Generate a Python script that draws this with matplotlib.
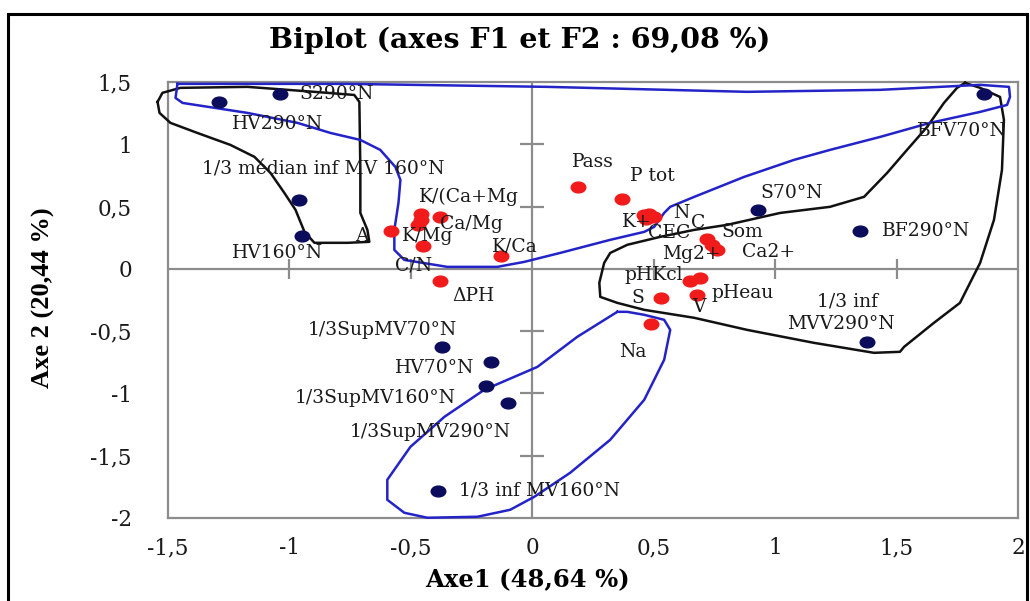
import matplotlib
matplotlib.use("Agg")
import matplotlib.pyplot as plt
from matplotlib.path import Path
from matplotlib.patches import Rectangle
from matplotlib.ticker import FuncFormatter
import numpy as np

# ---------------- data ----------------
# observations (dark blue points)
obs_names = ["S290°N", "HV290°N", "1/3 médian inf MV 160°N", "HV160°N", "S70°N",
             "BF290°N", "BFV70°N", "1/3 inf\nMVV290°N", "1/3SupMV70°N", "HV70°N",
             "1/3SupMV160°N", "1/3SupMV290°N", "1/3 inf MV160°N"]
obs_x = [-1.04, -1.29, -0.96, -0.95, 0.93, 1.35, 1.86, 1.38, -0.37, -0.17, -0.19, -0.10, -0.39]
obs_y = [1.40, 1.34, 0.55, 0.26, 0.47, 0.30, 1.40, -0.59, -0.63, -0.75, -0.94, -1.08, -1.78]

# variables (red points)
var_x = [0.19, 0.37, 0.46, 0.48, 0.50, 0.47, 0.72, 0.74, 0.76, 0.65, 0.69, 0.68, 0.53, 0.49,
         -0.13, -0.58, -0.46, -0.46, -0.47, -0.38, -0.45, -0.38]
var_y = [0.66, 0.56, 0.43, 0.44, 0.42, 0.40, 0.24, 0.19, 0.15, -0.10, -0.07, -0.21, -0.23, -0.44,
         0.10, 0.30, 0.44, 0.39, 0.35, 0.42, 0.18, -0.10]

# text labels (as placed in the chart)
label_text = ["S290°N", "HV290°N", "1/3 médian inf MV 160°N", "HV160°N", "A",
              "K/(Ca+Mg", "Ca/Mg", "K/Mg", "K/Ca", "C/N", "ΔPH",
              "Pass", "P tot", "K+", "N", "CEC", "C", "Som", "Mg2+", "Ca2+",
              "pHKcl", "S", "pHeau", "V", "Na",
              "S70°N", "BF290°N", "BFV70°N", "1/3 inf", "MVV290°N",
              "1/3SupMV70°N", "HV70°N", "1/3SupMV160°N", "1/3SupMV290°N", "1/3 inf MV160°N"]
label_x = [-0.96, -1.235, -1.358, -1.235, -0.73,
           -0.465, -0.38, -0.535, -0.165, -0.564, -0.33,
           0.165, 0.403, 0.37, 0.58, 0.477, 0.655, 0.78, 0.535, 0.864,
           0.378, 0.407, 0.737, 0.658, 0.358,
           0.938, 1.44, 1.584, 1.173, 1.05,
           -0.926, -0.564, -0.98, -0.753, -0.30]
label_y = [1.40, 1.16, 0.795, 0.13, 0.26,
           0.58, 0.36, 0.265, 0.18, 0.025, -0.215,
           0.86, 0.746, 0.377, 0.45, 0.29, 0.37, 0.297, 0.12, 0.136,
           -0.048, -0.233, -0.193, -0.305, -0.666,
           0.61, 0.305, 1.108, -0.265, -0.44,
           -0.49, -0.795, -1.035, -1.31, -1.78]

# hand-drawn group outlines (data units)
black1_x = [-1.543, -1.523, -1.449, -1.173, -0.897, -0.733, -0.712, -0.708, -0.708, -0.679,
            -0.671, -0.761, -0.897, -0.938, -0.975, -1.021, -1.078, -1.144, -1.243, -1.379,
            -1.490, -1.535, -1.543]
black1_y = [1.340, 1.413, 1.453, 1.461, 1.421, 1.396, 1.340, 0.795, 0.449, 0.313,
            0.217, 0.209, 0.209, 0.297, 0.474, 0.610, 0.770, 0.899, 0.995, 1.091,
            1.172, 1.252, 1.340]

blue1_x = [-1.461, -1.469, -1.440, -1.173, -0.967, -0.831, -0.708, -0.626, -0.564, -0.543,
           -0.551, -0.568, -0.568, -0.527, -0.350, -0.144, -0.033, 0.115, 0.321, 0.461,
           0.502, 0.543, 0.568, 0.667, 0.872, 1.078, 1.226, 1.432, 1.638, 1.844,
           1.955, 1.967, 1.963, 1.844, 1.432, 0.885, 0.062, -0.761, -1.461]
blue1_y = [1.485, 1.372, 1.332, 1.252, 1.172, 1.091, 1.035, 0.955, 0.819, 0.714,
           0.530, 0.313, 0.152, 0.072, 0.016, 0.016, 0.056, 0.128, 0.233, 0.297,
           0.337, 0.449, 0.498, 0.578, 0.738, 0.875, 0.955, 1.059, 1.172, 1.260,
           1.316, 1.380, 1.461, 1.477, 1.437, 1.421, 1.461, 1.485, 1.485]

black2_x = [1.782, 1.844, 1.926, 1.942, 1.934, 1.901, 1.844, 1.761, 1.654, 1.531,
            1.514, 1.407, 1.160, 0.885, 0.667, 0.461, 0.350, 0.280, 0.276, 0.296,
            0.321, 0.391, 0.527, 0.667, 0.802, 1.021, 1.226, 1.366, 1.461, 1.543,
            1.626, 1.695, 1.749, 1.782]
black2_y = [1.493, 1.453, 1.380, 1.196, 0.795, 0.393, 0.048, -0.273, -0.433, -0.626,
            -0.666, -0.674, -0.594, -0.490, -0.393, -0.329, -0.273, -0.225, -0.112, 0.048,
            0.128, 0.193, 0.257, 0.313, 0.353, 0.449, 0.498, 0.578, 0.770, 0.955,
            1.140, 1.332, 1.453, 1.493]

blue2_x = [0.350, 0.185, 0.021, -0.198, -0.362, -0.502, -0.597, -0.597, -0.527, -0.432,
           -0.226, -0.091, 0.008, 0.156, 0.321, 0.461, 0.543, 0.568, 0.543, 0.461,
           0.391, 0.350]
blue2_y = [-0.345, -0.546, -0.787, -0.971, -1.188, -1.429, -1.693, -1.854, -1.958, -1.998,
           -1.990, -1.934, -1.830, -1.637, -1.372, -1.051, -0.730, -0.490, -0.409, -0.369,
           -0.345, -0.345]

xticks = [-1.5, -1.0, -0.5, 0.0, 0.5, 1.0, 1.5, 2.0]
yticks = [-2.0, -1.5, -1.0, -0.5, 0.0, 0.5, 1.0, 1.5]

# ---------------- drawing ----------------
SERIF = "DejaVu Serif"
fig = plt.figure(figsize=(10.30, 6.01), dpi=100)
ax = fig.add_axes([168/1030, 1 - 518/601, 850/1030, 436/601])
ax.set_xlim(-1.5, 2.0)
ax.set_ylim(-2.0, 1.5)

grey = "#8c8c8c"
for s in ax.spines.values():
    s.set_color(grey)
    s.set_linewidth(1.6)

ax.set_xticks(xticks)
ax.set_yticks(yticks)
fmt = FuncFormatter(lambda v, p: ("%g" % v).replace(".", ","))
ax.xaxis.set_major_formatter(fmt)
ax.yaxis.set_major_formatter(fmt)
ax.tick_params(length=0, labelsize=15.5, pad=0)
ax.tick_params(axis="x", pad=14)
ax.tick_params(axis="y", pad=26)
for t in ax.get_xticklabels() + ax.get_yticklabels():
    t.set_fontfamily(SERIF)
    t.set_color("#1a1a1a")

# central axes with crossing tick marks
ax.axhline(0, color=grey, lw=1.6, zorder=1)
ax.axvline(0, color=grey, lw=1.6, zorder=1)
xt_in = [v for v in xticks if v not in (0.0, -1.5, 2.0)]
yt_in = [v for v in yticks if v not in (0.0, -2.0, 1.5)]
ax.plot(xt_in, [0] * len(xt_in), ls="", marker="|", ms=15, mew=1.6, color=grey, zorder=1)
ax.plot([0] * len(yt_in), yt_in, ls="", marker="_", ms=17, mew=1.6, color=grey, zorder=1)

# ellipse marker (stretched dots)
uc = Path.unit_circle()
ell = Path(uc.vertices * np.array([1.35, 1.0]), uc.codes)

ax.plot(obs_x, obs_y, ls="", marker=ell, ms=10.5, color="#0c0c5c", zorder=4)
ax.plot(var_x, var_y, ls="", marker=ell, ms=10.5, color="#f21b1b", zorder=4)

# outlines
ax.plot(black1_x, black1_y, color="#111111", lw=1.8, clip_on=False, zorder=3)
ax.plot(black2_x, black2_y, color="#111111", lw=1.8, clip_on=False, zorder=3)
ax.plot(blue1_x, blue1_y, color="#2323c8", lw=1.8, clip_on=False, zorder=3)
ax.plot(blue2_x, blue2_y, color="#2323c8", lw=1.8, clip_on=False, zorder=3)

for t, x, y in zip(label_text, label_x, label_y):
    ax.text(x, y, t, fontsize=13.5, family=SERIF, color="#1a1a1a",
            ha="left", va="center", clip_on=False, zorder=5)

fig.text(520/1030, 1 - 40/601, "Biplot (axes F1 et F2 : 69,08 %)", fontsize=20.5,
         fontweight="bold", family=SERIF, ha="center", va="center")
fig.text(527/1030, 1 - 580/601, "Axe1 (48,64 %)", fontsize=17.5,
         fontweight="bold", family=SERIF, ha="center", va="center")
fig.text(43/1030, 1 - 298/601, "Axe 2 (20,44 %)", fontsize=19, rotation=90,
         fontweight="bold", family="Liberation Serif", ha="center", va="center")

# outer frame
fig.patches.append(Rectangle((8/1030, -0.02), 1019/1030, 1 - 14/601 + 0.02,
                             transform=fig.transFigure, fill=False,
                             edgecolor="black", lw=2.2))

fig.savefig("out.png", dpi=100)
